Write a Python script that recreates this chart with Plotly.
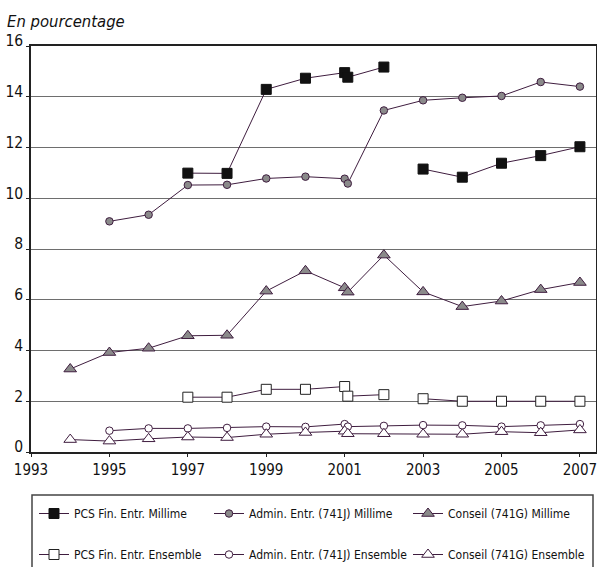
import plotly.graph_objects as go

# ---- data ----
YEARS = [1994, 1995, 1996, 1997, 1998, 1999, 2000, 2001, 2001.08, 2002, 2003, 2004, 2005, 2006, 2007]
YEARS_PCS = [1997, 1998, 1999, 2000, 2001, 2001.08, 2002, 2002.5, 2003, 2004, 2005, 2006, 2007]

pcs_millime = [10.99, 10.98, 14.29, 14.73, 14.95, 14.77, 15.17, None, 11.15, 10.83, 11.38, 11.68, 12.03]
pcs_ensemble = [2.16, 2.16, 2.47, 2.47, 2.58, 2.20, 2.26, None, 2.10, 2.0, 2.0, 2.0, 2.0]
admin_millime = [None, 9.09, 9.35, 10.52, 10.53, 10.78, 10.85, 10.77, 10.58, 13.46, 13.86, 13.96, 14.03, 14.58, 14.40]
admin_ensemble = [None, 0.84, 0.93, 0.93, 0.95, 1.0, 0.99, 1.1, 1.0, 1.03, 1.06, 1.05, 1.0, 1.05, 1.1]
conseil_millime = [3.27, 3.92, 4.09, 4.58, 4.60, 6.34, 7.14, 6.47, 6.30, 7.76, 6.31, 5.73, 5.95, 6.40, 6.68]
conseil_ensemble = [0.49, 0.43, 0.52, 0.59, 0.57, 0.70, 0.77, 0.82, 0.72, 0.72, 0.70, 0.70, 0.80, 0.76, 0.87]

X_TICKS = [1993, 1995, 1997, 1999, 2001, 2003, 2005, 2007]
Y_TICKS = [0, 2, 4, 6, 8, 10, 12, 14, 16]

NAMES = {
    "pcs_m": "PCS Fin. Entr. Millime",
    "pcs_e": "PCS Fin. Entr. Ensemble",
    "adm_m": "Admin. Entr. (741J) Millime",
    "adm_e": "Admin. Entr. (741J) Ensemble",
    "con_m": "Conseil (741G) Millime",
    "con_e": "Conseil (741G) Ensemble",
}

LINE = "#3f1d3f"
GRAY = "#8a8a8a"
FONT = "Liberation Sans Narrow, DejaVu Sans Condensed, Arial Narrow, sans-serif"

fig = go.Figure()

def add(x, y, name, symbol, size, fill, outline, legend, group):
    fig.add_trace(go.Scatter(
        x=x, y=y, name=name, mode="lines+markers",
        line=dict(color=LINE, width=1),
        marker=dict(symbol=symbol, size=size, color=fill, line=dict(color=outline, width=1)),
        connectgaps=False, legend=legend, legendgroup=group,
    ))

add(YEARS_PCS, pcs_millime, NAMES["pcs_m"], "square", 10, "#111111", "#111111", "legend", "a")
add(YEARS_PCS, pcs_ensemble, NAMES["pcs_e"], "square", 10, "white", "#222222", "legend", "b")
add(YEARS, admin_millime, NAMES["adm_m"], "circle", 7.5, GRAY, LINE, "legend2", "c")
add(YEARS, admin_ensemble, NAMES["adm_e"], "circle", 7.5, "white", LINE, "legend2", "d")
add(YEARS, conseil_millime, NAMES["con_m"], "triangle-up", 11, GRAY, LINE, "legend3", "e")
add(YEARS, conseil_ensemble, NAMES["con_e"], "triangle-up", 11, "white", LINE, "legend3", "f")

L, R, T, B = 31, 1, 46, 115
W, H = 597, 567
pw = W - L - R
ph = H - T - B

def px_x(p):
    return (p - L) / pw

def px_y(p):
    return (H - B - p) / ph

leg_common = dict(
    orientation="v", yanchor="top", xanchor="left",
    xref="container", yref="container",
    bgcolor="rgba(0,0,0,0)", borderwidth=0,
    font=dict(family=FONT, size=12, color="#111111"),
    tracegroupgap=22, itemwidth=30,
)

fig.update_layout(
    width=W, height=H,
    margin=dict(l=L, r=R, t=T, b=B, autoexpand=False),
    paper_bgcolor="white", plot_bgcolor="white",
    font=dict(family=FONT, color="#111111"),
    title=dict(text="En pourcentage", x=7 / W, xanchor="left", xref="container",
               y=1 - 21 / H, yanchor="middle", yref="container",
               font=dict(family=FONT, size=16.5, style="italic", color="#111111")),
    legend=dict(x=34 / W, y=1 - 499 / H, **leg_common),
    legend2=dict(x=209 / W, y=1 - 499 / H, **leg_common),
    legend3=dict(x=408 / W, y=1 - 499 / H, **leg_common),
    xaxis=dict(range=[1993, 2007.41], tickvals=X_TICKS, ticktext=[str(v) for v in X_TICKS],
               showgrid=False, zeroline=False, showline=True, linecolor="#222222", linewidth=1.5,
               mirror=True, ticks="outside", ticklen=3, tickcolor="#222222",
               ticklabeloverflow="allow",
               tickfont=dict(family=FONT, size=15, color="#111111")),
    yaxis=dict(range=[0, 16], tickvals=Y_TICKS, ticktext=[str(v) for v in Y_TICKS],
               showgrid=True, gridcolor="#6e6e6e", gridwidth=1, zeroline=False,
               showline=True, linecolor="#222222", linewidth=1.5, mirror=True,
               ticks="outside", ticklen=3, tickcolor="#222222", ticklabelshift=-5,
               ticklabeloverflow="allow",
               tickfont=dict(family=FONT, size=15.5, color="#111111")),
    shapes=[dict(type="rect", xref="paper", yref="paper",
                 x0=px_x(32), x1=px_x(593), y0=px_y(495), y1=px_y(575),
                 line=dict(color="#444444", width=1.5), fillcolor="rgba(0,0,0,0)", layer="below")],
    showlegend=True,
)

fig.write_html("out.html", config={"displayModeBar": False},
               post_script="document.body.style.margin='0px';")
